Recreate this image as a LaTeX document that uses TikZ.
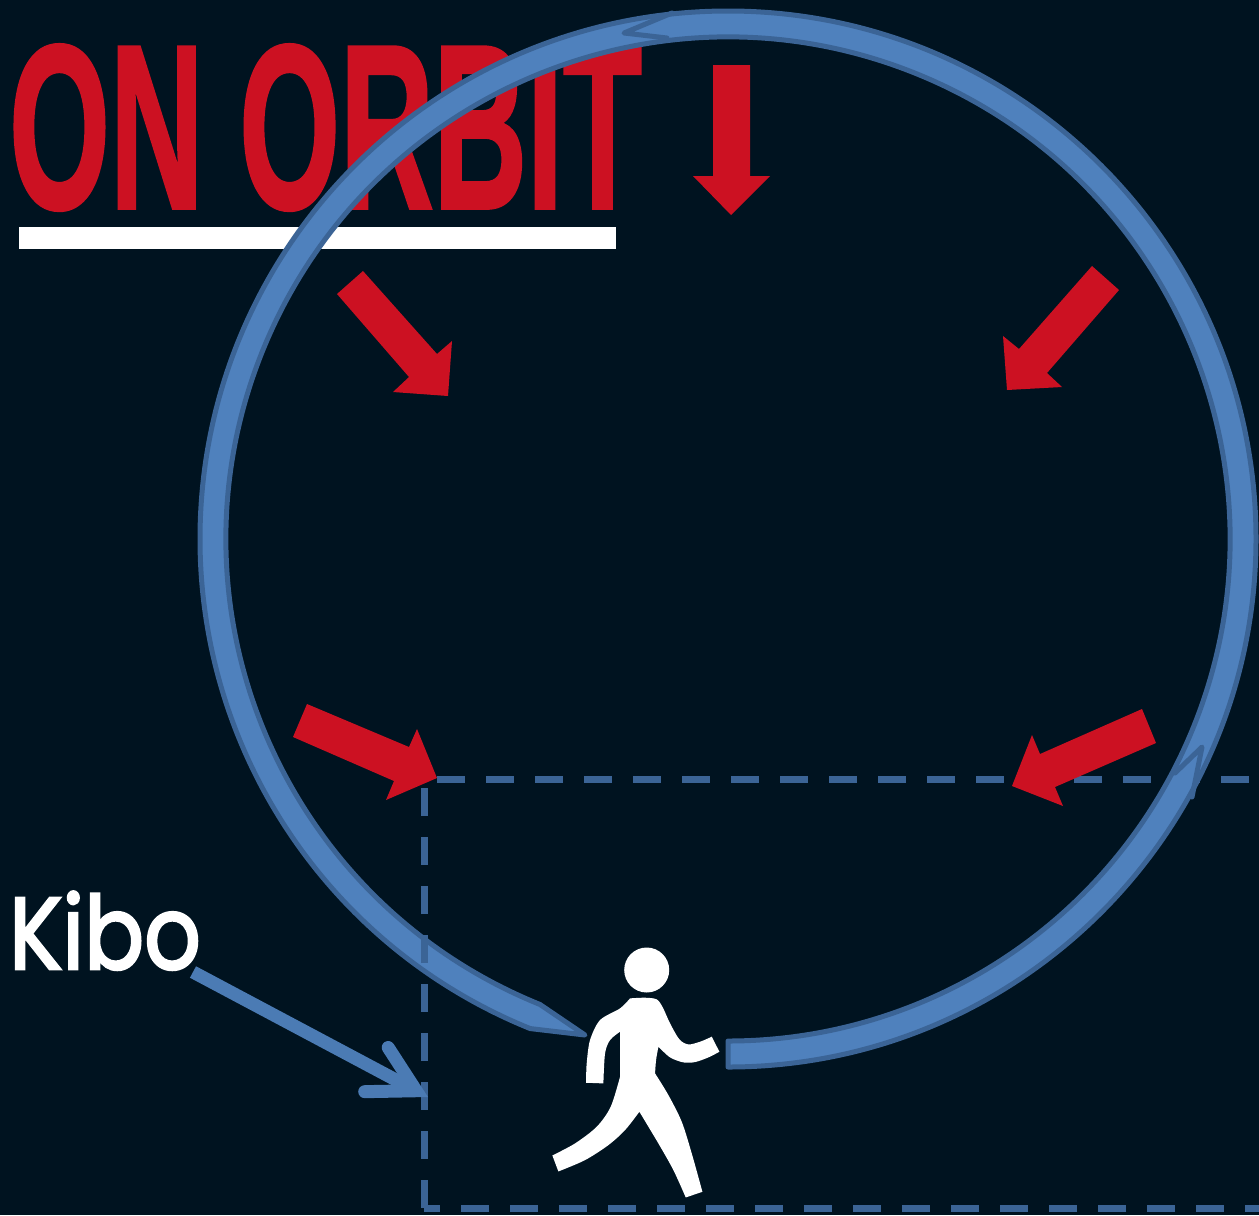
\documentclass[tikz,border=0pt]{standalone}
\usepackage{fontspec}
\usepackage{xcolor}
\usetikzlibrary{arrows.meta,positioning,calc}
\newfontfamily\titlefont[FakeBold=1.6]{Liberation Sans Bold}
\newfontfamily\kibofont[FakeBold=2.6]{Poppins}
\definecolor{spacebg}{HTML}{001320}
\definecolor{ringblue}{HTML}{4F81BD}
\definecolor{ringedge}{HTML}{3B6496}
\definecolor{markred}{HTML}{CC1122}

\begin{document}
\begin{tikzpicture}[
  x=0.2mm, y=0.2mm, yscale=-1,
  redarrow/.style={fill=markred},
  ring/.style={draw=ringedge, fill=ringblue, line width=1mm, line join=round},
  seam/.style={draw=ringedge, line width=1mm, line join=round, line cap=round},
  dashline/.style={draw=ringedge, line width=1.4mm, dash pattern=on 5.6mm off 4.2mm},
  kiboarrow/.style={draw=ringblue!95!black, line width=2.6mm, -{Straight Barb[length=9mm,width=10mm,line width=2.6mm,line cap=round]}}
]
\fill[spacebg] (0,0) rectangle (1259,1215);
\useasboundingbox (0,0) rectangle (1259,1215);

\node[anchor=base west, inner sep=0pt, xscale=0.554, text=markred, font=\titlefont\fontsize{133}{133}\selectfont] (title) at (9,208) {ON ORBIT};
\fill[white] (19,227) rectangle (616,249);

\coordinate (ringc) at (728,539);
\coordinate (toptl) at (437,779);
\coordinate (topr) at (1259,779);
\coordinate (leftt) at (424,785);
\coordinate (leftb) at (424,1208);
\coordinate (botl) at (424,1208);
\coordinate (botr) at (1259,1208);
\coordinate (ringtip) at (585,1035);

\draw[dashline] (toptl) -- (topr);

\draw[ring] ($(ringc)+(90:528)$) arc[start angle=90, end angle=-248, radius=528]
  -- (ringtip) -- ($(ringc)+(-248:502)$) arc[start angle=-248, end angle=90, radius=502] -- cycle;
\draw[seam] (672,13) -- (624,33) -- (667,38);
\draw[seam] (1175,773) -- (1202,747) -- (1192,797);

\draw[dashline] (leftb) -- (leftt);
\draw[dashline, dash phase=2.4mm] (botl) -- (botr);

\fill[redarrow] (713,65) -- (750,65) -- (750,176) -- (770,176) -- (731,215) -- (693,176) -- (713,176) -- cycle;
\fill[redarrow] (363,271) -- (437,354) -- (452,341) -- (448,396) -- (393,392) -- (409,377) -- (337,294) -- cycle;
\fill[redarrow] (1092,266) -- (1119,290) -- (1047,373) -- (1062,387) -- (1007,390) -- (1003,336) -- (1019,349) -- cycle;
\fill[redarrow] (307,704) -- (409,747) -- (417,729) -- (437,778) -- (386,800) -- (394,781) -- (293,737) -- cycle;
\fill[redarrow] (1142,709) -- (1156,743) -- (1055,787) -- (1063,806) -- (1012,786) -- (1032,735) -- (1040,754) -- cycle;

\node[anchor=base west, inner sep=0pt, text=white, xscale=0.87, font=\kibofont\fontsize{58}{58}\selectfont] (kibo) at (9,969) {Kibo};
\coordinate (kibotip) at (428,1097);
\draw[kiboarrow] (193,972) -- (kibotip);

\fill[white] (646.7,970) circle[radius=22.5];
\begin{scope}[shift={(520,930)}, x=0.0667mm, y=0.0667mm]
\fill[white, smooth, tension=0.5]
  plot coordinates {(330,205) (375,203) (410,208) (428,232) (450,280) (478,328) (505,343) (540,335) (575,320)}
  -- plot coordinates {(598,365) (565,382) (525,396) (490,397) (450,382) (415,350)}
  -- plot coordinates {(415,350) (408,390) (405,430)}
  -- plot coordinates {(405,430) (445,495) (485,575) (515,670) (547,785)}
  -- plot coordinates {(497,802) (460,720) (415,640) (358,545)}
  -- plot coordinates {(358,545) (315,600) (265,645) (195,690) (115,724)}
  -- plot coordinates {(97,676) (165,640) (230,590) (272,530) (300,440)}
  -- plot coordinates {(300,440) (300,305)}
  -- plot coordinates {(300,305) (270,330) (255,370) (250,460)}
  -- plot coordinates {(198,458) (200,400) (210,330) (240,270) (300,235) (330,205)} -- cycle;
\end{scope}
\end{tikzpicture}
\end{document}
